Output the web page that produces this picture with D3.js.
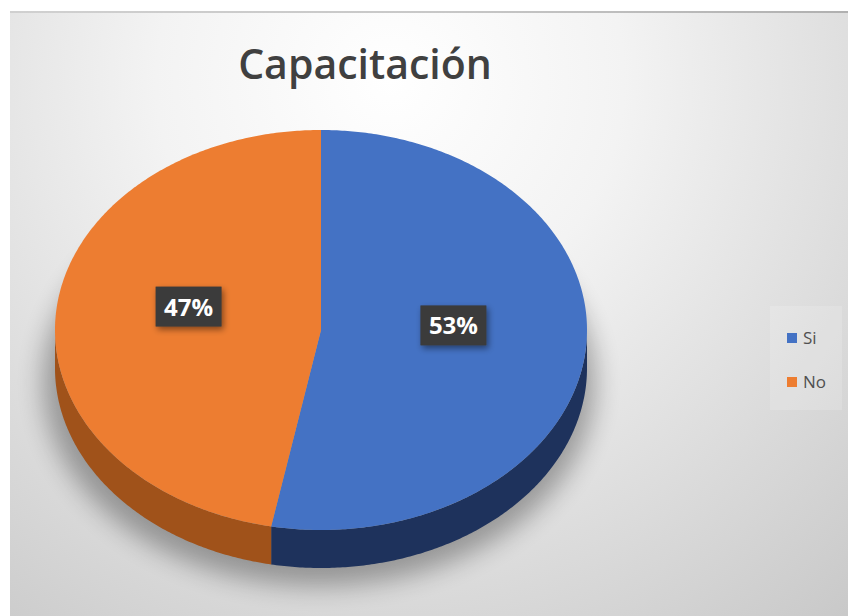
<!DOCTYPE html>
<html>
<head>
<meta charset="utf-8">
<script src="https://cdn.jsdelivr.net/npm/d3@7"></script>
<style>
  html, body { margin: 0; padding: 0; background: #ffffff; }
  svg { display: block; }
</style>
</head>
<body>
<svg id="chart" width="848" height="616"></svg>
<script>
const categories = ["Si", "No"];
const values = [53, 47];
const valueLabels = ["53%", "47%"];
const colors = ["#4472C4", "#ED7D31"];
const sideColors = ["#1E325C", "#A0521A"];
const title = "Capacitación";

const W = 848, H = 616;
const svg = d3.select("#chart");
const defs = svg.append("defs");

// background radial gradient
const bg = defs.append("radialGradient").attr("id", "bg")
  .attr("gradientUnits", "userSpaceOnUse")
  .attr("cx", 390).attr("cy", 80).attr("r", 780);
bg.append("stop").attr("offset", "0%").attr("stop-color", "#ffffff");
bg.append("stop").attr("offset", "30%").attr("stop-color", "#f3f3f3");
bg.append("stop").attr("offset", "100%").attr("stop-color", "#c2c2c2");

const topLine = defs.append("linearGradient").attr("id", "topline");
topLine.append("stop").attr("offset", "0%").attr("stop-color", "#d0d0d0");
topLine.append("stop").attr("offset", "50%").attr("stop-color", "#c8c8c8");
topLine.append("stop").attr("offset", "100%").attr("stop-color", "#b0b0b0");

const blur = defs.append("filter").attr("id", "shadow")
  .attr("x", "-30%").attr("y", "-30%").attr("width", "160%").attr("height", "160%");
blur.append("feGaussianBlur").attr("stdDeviation", 13);

const lblShadow = defs.append("filter").attr("id", "lblshadow")
  .attr("x", "-30%").attr("y", "-30%").attr("width", "160%").attr("height", "160%");
lblShadow.append("feDropShadow").attr("dx", 2).attr("dy", 3).attr("stdDeviation", 3)
  .attr("flood-color", "#000").attr("flood-opacity", 0.45);

svg.append("rect").attr("x", 10).attr("y", 11).attr("width", W - 10).attr("height", H - 11)
  .attr("fill", "url(#bg)");
svg.append("rect").attr("x", 10).attr("y", 11).attr("width", W - 10).attr("height", 2)
  .attr("fill", "url(#topline)");

// title
svg.append("text").attr("x", 365).attr("y", 79)
  .attr("text-anchor", "middle")
  .attr("font-family", "'Open Sans', 'Noto Sans', sans-serif")
  .attr("font-weight", 600)
  .attr("font-size", 41)
  .attr("fill", "#404040")
  .text(title);

// 3D pie geometry
const cx = 321, cy = 330, rx = 266, ry = 200, depth = 38;
const pie = d3.pie().sort(null).value(d => d)(values);
const pt = (a, dy = 0, f = 1) => [cx + rx * f * Math.sin(a), cy - ry * f * Math.cos(a) + dy];

function arcPoints(a0, a1, dy) {
  const n = Math.max(2, Math.ceil(Math.abs(a1 - a0) / 0.01));
  return d3.range(n + 1).map(i => pt(a0 + (a1 - a0) * i / n, dy));
}
const line = d3.line();

// shadow
svg.append("ellipse").attr("cx", cx - 2).attr("cy", cy + depth + 14)
  .attr("rx", rx + 10).attr("ry", ry + 4)
  .attr("fill", "#000").attr("opacity", 0.32).attr("filter", "url(#shadow)");

// sides (front half only)
const g = svg.append("g");
pie.forEach((s, i) => {
  const a0 = Math.max(s.startAngle, Math.PI / 2);
  const a1 = Math.min(s.endAngle, 3 * Math.PI / 2);
  if (a1 <= a0) return;
  const top = arcPoints(a0, a1, 0);
  const bot = arcPoints(a1, a0, depth);
  g.append("path").attr("d", line(top.concat(bot)) + "Z")
    .attr("fill", sideColors[i]);
});

// top faces
pie.forEach((s, i) => {
  const pts = [[cx, cy]].concat(arcPoints(s.startAngle, s.endAngle, 0));
  g.append("path").attr("d", line(pts) + "Z").attr("fill", colors[i]);
});

// labels
pie.forEach((s, i) => {
  const mid = (s.startAngle + s.endAngle) / 2;
  const [lx, ly0] = pt(mid, 0, 0.5);
  const ly = ly0 - 14;
  const lg = svg.append("g").attr("transform", `translate(${lx},${ly})`);
  lg.append("rect").attr("x", -33).attr("y", -20).attr("width", 66).attr("height", 40)
    .attr("fill", "#3a3a3a").attr("filter", "url(#lblshadow)");
  lg.append("text").attr("x", 0).attr("y", 9)
    .attr("text-anchor", "middle")
    .attr("font-family", "'Open Sans', 'Noto Sans', sans-serif")
    .attr("font-weight", 700).attr("font-size", 24)
    .attr("fill", "#ffffff")
    .text(valueLabels[i]);
});

// legend
svg.append("rect").attr("x", 770).attr("y", 306).attr("width", 72).attr("height", 104)
  .attr("fill", "#ffffff").attr("opacity", 0.16);
const legend = svg.append("g").attr("transform", "translate(787,338)");
categories.forEach((c, i) => {
  const row = legend.append("g").attr("transform", `translate(0,${i * 44})`);
  row.append("rect").attr("x", 0).attr("y", -5).attr("width", 10).attr("height", 10)
    .attr("fill", colors[i]);
  row.append("text").attr("x", 16).attr("y", 6)
    .attr("font-family", "'Open Sans', 'Noto Sans', sans-serif")
    .attr("font-size", 17).attr("fill", "#505050")
    .text(c);
});
</script>
</body>
</html>
